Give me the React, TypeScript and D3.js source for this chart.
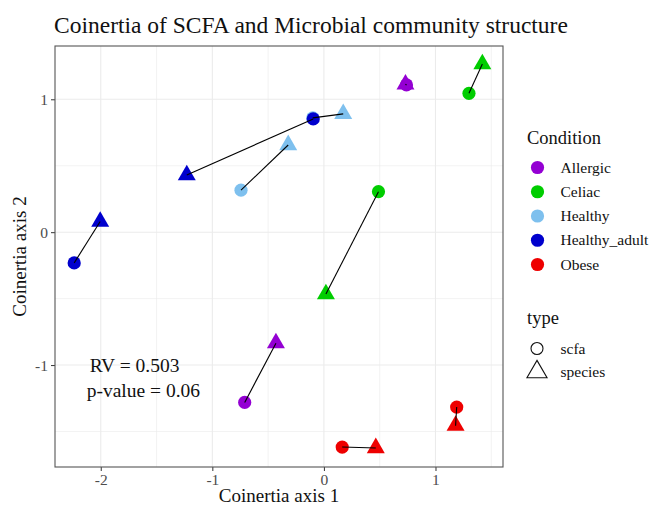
import * as d3 from "d3";
import React, { useRef, useEffect } from "react";

// one row per sample: scfa score (circle) and species score (triangle)
const condition = [
  "Healthy_adult",
  "Healthy",
  "Healthy_adult",
  "Healthy",
  "Allergic",
  "Celiac",
  "Celiac",
  "Allergic",
  "Obese",
  "Obese",
];
const scfaX = [-2.238, -0.1, -0.096, -0.743, 0.74, 1.3, 0.489, -0.71, 0.164, 1.19];
const scfaY = [-0.231, 0.86, 0.852, 0.316, 1.108, 1.045, 0.305, -1.281, -1.617, -1.316];
const speciesX = [-2.005, 0.173, -1.229, -0.32, 0.731, 1.42, 0.018, -0.43, 0.465, 1.18];
const speciesY = [0.08, 0.89, 0.43, 0.656, 1.113, 1.265, -0.466, -0.835, -1.624, -1.456];

const conditions = ["Allergic", "Celiac", "Healthy", "Healthy_adult", "Obese"];
const conditionColors = ["#9400D3", "#00CD00", "#7EC0EE", "#0000CD", "#EE0000"];
const types = ["scfa", "species"];
const xTicks = [-2, -1, 0, 1];
const yTicks = [-1, 0, 1];
const xMinor = [-1.5, -0.5, 0.5, 1.5];
const yMinor = [-1.5, -0.5, 0.5];

const FONT = "'Liberation Serif', 'Times New Roman', serif";

document.body.style.margin = "0";

export default function App() {
  const ref = useRef(null);
  const width = 652;
  const height = 506;
  const panel = { left: 55, right: 503, top: 46, bottom: 467 };

  useEffect(() => {
    const svg = d3.select(ref.current);
    svg.selectAll("*").remove();

    const x = d3.scaleLinear().domain([-2.41, 1.605]).range([panel.left, panel.right]);
    const y = d3.scaleLinear().domain([-1.767, 1.401]).range([panel.bottom, panel.top]);
    const color = d3.scaleOrdinal().domain(conditions).range(conditionColors);

    svg.append("rect").attr("width", width).attr("height", height).attr("fill", "white");

    // grid
    const grid = svg.append("g");
    const vLines = (vals, w) =>
      grid
        .selectAll(null)
        .data(vals)
        .enter()
        .append("line")
        .attr("x1", (d) => x(d))
        .attr("x2", (d) => x(d))
        .attr("y1", panel.top)
        .attr("y2", panel.bottom)
        .attr("stroke", "#EBEBEB")
        .attr("stroke-width", w);
    const hLines = (vals, w) =>
      grid
        .selectAll(null)
        .data(vals)
        .enter()
        .append("line")
        .attr("y1", (d) => y(d))
        .attr("y2", (d) => y(d))
        .attr("x1", panel.left)
        .attr("x2", panel.right)
        .attr("stroke", "#EBEBEB")
        .attr("stroke-width", w);
    vLines(xMinor, 0.6);
    hLines(yMinor, 0.6);
    vLines(xTicks, 1.1);
    hLines(yTicks, 1.1);

    // axes
    const xAxis = svg
      .append("g")
      .attr("transform", `translate(0, ${panel.bottom})`)
      .call(d3.axisBottom(x).tickValues(xTicks).tickSize(4).tickSizeOuter(0).tickPadding(3).tickFormat(d3.format("d")));
    const yAxis = svg
      .append("g")
      .attr("transform", `translate(${panel.left}, 0)`)
      .call(d3.axisLeft(y).tickValues(yTicks).tickSize(4).tickSizeOuter(0).tickPadding(3).tickFormat(d3.format("d")));
    [xAxis, yAxis].forEach((a) => {
      a.select(".domain").remove();
      a.selectAll(".tick line").attr("stroke", "#333333").attr("stroke-width", 1);
      a.selectAll(".tick text")
        .attr("fill", "#4D4D4D")
        .style("font-family", FONT)
        .style("font-size", "15.5px");
    });
    // R prints a plain hyphen for negatives
    svg.selectAll(".tick text").text((d) => String(d));

    svg
      .append("rect")
      .attr("x", panel.left)
      .attr("y", panel.top)
      .attr("width", panel.right - panel.left)
      .attr("height", panel.bottom - panel.top)
      .attr("fill", "none")
      .attr("stroke", "#555555")
      .attr("stroke-width", 1.1);

    const idx = d3.range(condition.length);

    // points
    svg
      .append("g")
      .selectAll("circle")
      .data(idx)
      .enter()
      .append("circle")
      .attr("cx", (i) => x(scfaX[i]))
      .attr("cy", (i) => y(scfaY[i]))
      .attr("r", 6.6)
      .attr("fill", (i) => color(condition[i]));

    svg
      .append("g")
      .selectAll("path")
      .data(idx)
      .enter()
      .append("path")
      .attr("d", d3.symbol(d3.symbolTriangle, 140))
      .attr("transform", (i) => `translate(${x(speciesX[i])}, ${y(speciesY[i])})`)
      .attr("fill", (i) => color(condition[i]));

    // segments
    svg
      .append("g")
      .selectAll("line")
      .data(idx)
      .enter()
      .append("line")
      .attr("x1", (i) => x(scfaX[i]))
      .attr("y1", (i) => y(scfaY[i]))
      .attr("x2", (i) => x(speciesX[i]))
      .attr("y2", (i) => y(speciesY[i]))
      .attr("stroke", "black")
      .attr("stroke-width", 1.1);

    // annotation
    const note = svg.append("g").style("font-family", FONT).style("font-size", "19.5px").attr("fill", "#111");
    note.append("text").attr("x", x(-1.697)).attr("y", 371.5).attr("text-anchor", "middle").text("RV = 0.503");
    note.append("text").attr("x", x(-1.618)).attr("y", 396.5).attr("text-anchor", "middle").text("p-value = 0.06");

    // titles
    svg
      .append("text")
      .attr("x", 54)
      .attr("y", 33)
      .style("font-family", FONT)
      .style("font-size", "23.5px")
      .attr("fill", "#111")
      .text("Coinertia of SCFA and Microbial community structure");
    svg
      .append("text")
      .attr("x", (panel.left + panel.right) / 2)
      .attr("y", 502)
      .attr("text-anchor", "middle")
      .style("font-family", FONT)
      .style("font-size", "19px")
      .attr("fill", "#111")
      .text("Coinertia axis 1");
    svg
      .append("text")
      .attr("transform", `translate(26, ${(panel.top + panel.bottom) / 2}) rotate(-90)`)
      .attr("text-anchor", "middle")
      .style("font-family", FONT)
      .style("font-size", "19px")
      .attr("fill", "#111")
      .text("Coinertia axis 2");

    // legend: Condition
    const leg = svg.append("g").style("font-family", FONT).attr("fill", "#111");
    leg.append("text").attr("x", 527).attr("y", 144).style("font-size", "18.5px").text("Condition");
    const rowY = d3.scalePoint().domain(conditions).range([167.5, 264.5]);
    leg
      .selectAll(".ck")
      .data(conditions)
      .enter()
      .append("circle")
      .attr("cx", 537.5)
      .attr("cy", (d) => rowY(d))
      .attr("r", 6.6)
      .attr("fill", (d) => color(d));
    leg
      .selectAll(".cl")
      .data(conditions)
      .enter()
      .append("text")
      .attr("x", 560.5)
      .attr("y", (d) => rowY(d) + 5)
      .style("font-size", "15.5px")
      .text((d) => d);

    // legend: type
    leg.append("text").attr("x", 527).attr("y", 324).style("font-size", "18.5px").text("type");
    const typeY = d3.scalePoint().domain(types).range([348.5, 372]);
    leg
      .append("circle")
      .attr("cx", 537)
      .attr("cy", typeY("scfa"))
      .attr("r", 6)
      .attr("fill", "none")
      .attr("stroke", "#111")
      .attr("stroke-width", 1.1);
    leg
      .append("path")
      .attr("d", d3.symbol(d3.symbolTriangle, 175))
      .attr("transform", `translate(537, ${typeY("species")})`)
      .attr("fill", "none")
      .attr("stroke", "#111")
      .attr("stroke-width", 1.1);
    leg
      .selectAll(".tl")
      .data(types)
      .enter()
      .append("text")
      .attr("x", 560.5)
      .attr("y", (d) => typeY(d) + 5)
      .style("font-size", "15.5px")
      .text((d) => d);
  }, []);

  return <svg ref={ref} width={width} height={height} style={{ display: "block" }}></svg>;
}
